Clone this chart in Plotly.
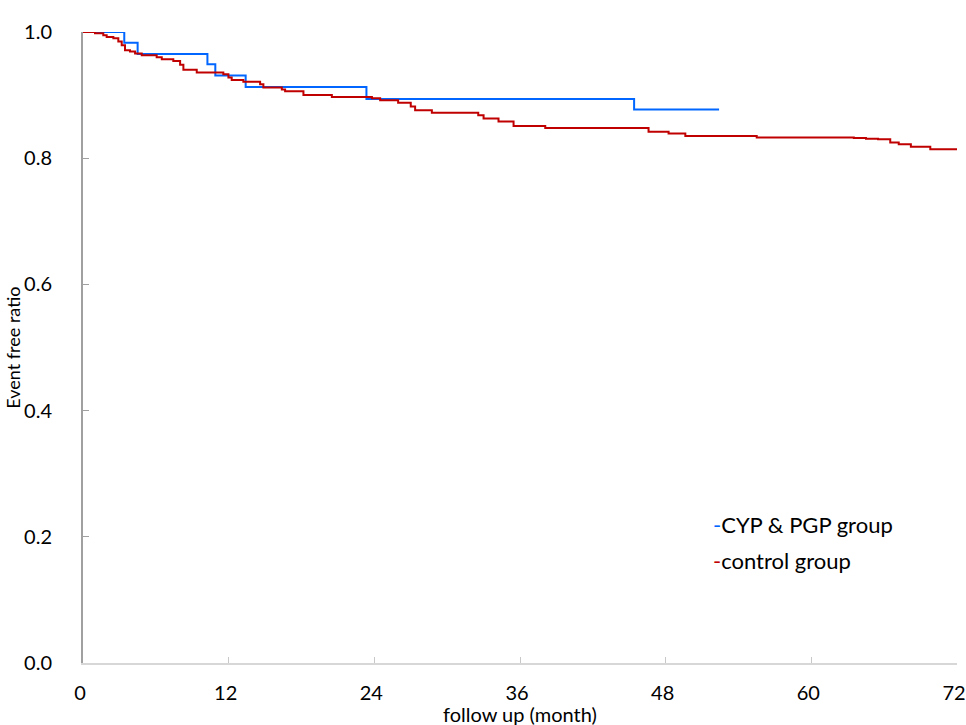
import plotly.graph_objects as go

# Kaplan-Meier style step data (month, event free ratio)
cyp_month = [0, 3.4, 4.5, 10.25, 10.9, 13.4, 23.35, 45.4, 52.4]
cyp_ratio = [1.0, 0.983, 0.965, 0.949, 0.931, 0.913, 0.894, 0.877, 0.877]

ctrl_month = [0, 0.99, 1.67, 1.95, 2.5, 2.91, 3.19, 3.46, 3.87, 4.29, 4.84,
              6.07, 6.49, 7.44, 8.0, 8.27, 9.37, 11.56, 11.98, 12.25, 13.21,
              14.59, 14.86, 16.38, 16.65, 18.16, 20.5, 23.8, 24.48, 25.96,
              27.0, 27.36, 28.74, 32.56, 33.0, 34.23, 35.47, 38.08, 46.59,
              48.24, 49.62, 55.5, 63.5, 64.5, 65.5, 66.5, 67.2, 68.2, 69.8, 72.0]
ctrl_ratio = [1.0, 0.998, 0.995, 0.992, 0.990, 0.985, 0.979, 0.971, 0.969, 0.966, 0.963,
              0.960, 0.957, 0.954, 0.948, 0.940, 0.936, 0.933, 0.928, 0.924, 0.921,
              0.917, 0.912, 0.909, 0.906, 0.900, 0.897, 0.895, 0.892, 0.888,
              0.882, 0.876, 0.872, 0.868, 0.863, 0.858, 0.851, 0.848, 0.842,
              0.839, 0.835, 0.833, 0.832, 0.831, 0.830, 0.825, 0.822, 0.818, 0.814, 0.814]

x_ticks = [0, 12, 24, 36, 48, 60, 72]
x_tick_labels = ['0', '12', '24', '36', '48', '60', '72']
y_ticks = [0.0, 0.2, 0.4, 0.6, 0.8, 1.0]

BLUE = '#0066ff'
RED = '#c00000'
FONT = 'Lato'

fig = go.Figure()

fig.add_trace(go.Scatter(
    x=cyp_month, y=cyp_ratio, mode='lines', line_shape='hv',
    line=dict(color=BLUE, width=2), name='CYP & PGP group',
    cliponaxis=False, showlegend=False,
))
fig.add_trace(go.Scatter(
    x=ctrl_month, y=ctrl_ratio, mode='lines', line_shape='hv',
    line=dict(color=RED, width=2), name='control group',
    cliponaxis=False, showlegend=False,
))

# legend drawn as text with a short coloured dash, like the original
legend_items = [('CYP & PGP group', BLUE, 0.22), ('control group', RED, 0.162)]
for label, color, ypos in legend_items:
    fig.add_annotation(
        x=0.719, y=ypos, xref='paper', yref='paper',
        xanchor='left', yanchor='middle', showarrow=False,
        text=f'<span style="color:{color}">-</span>{label}',
        font=dict(family=FONT, size=22, color='black'),
    )

# axis titles as annotations so they sit where the original has them
fig.add_annotation(
    x=0.5, y=-0.081, xref='paper', yref='paper', showarrow=False,
    xanchor='center', yanchor='middle', text='follow up (month)',
    font=dict(family=FONT, size=20, color='black'),
)
fig.add_annotation(
    x=-0.081, y=0.5, xref='paper', yref='paper', showarrow=False,
    xanchor='center', yanchor='middle', textangle=-90, text='Event free ratio',
    font=dict(family=FONT, size=18, color='black'),
)

fig.update_layout(
    width=966, height=725,
    margin=dict(l=83, r=9, t=32, b=62, autoexpand=False),
    plot_bgcolor='white', paper_bgcolor='white',
    font=dict(family=FONT, size=20, color='black'),
)

# labels sit a touch left of their ticks in the original
fig.update_xaxes(
    range=[0, 72], tickvals=x_ticks, ticktext=x_tick_labels,
    ticks='inside', ticklen=6, ticklabelshift=-3,
    tickcolor='rgb(200,200,200)', showline=True, linecolor='rgb(215,215,215)',
    linewidth=1.5, showgrid=False, zeroline=False, ticklabelstandoff=11,
    automargin=False, ticklabeloverflow='allow',
)
fig.update_yaxes(
    range=[0, 1], tickvals=y_ticks, tickformat='.1f', ticks='inside', ticklen=6,
    tickcolor='rgb(160,160,160)', showline=True, linecolor='rgb(160,160,160)',
    linewidth=2, showgrid=False, zeroline=False, ticklabelstandoff=25,
    automargin=False, ticklabeloverflow='allow',
)

# drop the browser's default 8px body margin so the figure fills the window
fig.write_html("out.html", config={'displayModeBar': False},
               post_script="document.body.style.margin='0';")
